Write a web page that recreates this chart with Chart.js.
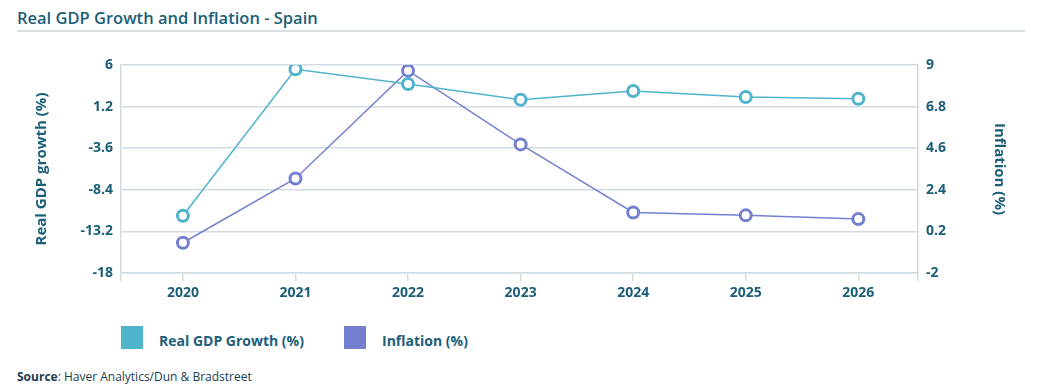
<!DOCTYPE html>
<html>
<head>
<meta charset="utf-8">
<script src="https://cdn.jsdelivr.net/npm/chart.js"></script>
<style>
  body { margin: 0; width: 1041px; height: 392px; background: #fff; font-family: "Open Sans", sans-serif; position: relative; overflow: hidden; }
  #title { position: absolute; left: 17px; top: 6px; font-size: 16.5px; font-weight: 600; color: #1b5e78; }
  #rule { position: absolute; left: 17px; top: 30px; width: 1008px; height: 2px; background: #d7dfe4; }
  #wrap { position: absolute; left: 0; top: 40px; width: 1041px; height: 273px; }
  .leg { position: absolute; top: 326px; display: flex; align-items: flex-start; }
  .sw { width: 22px; height: 23px; margin-right: 16px; }
  .leg span { font-size: 14px; font-weight: 700; color: #1b5e78; padding-top: 5px; }
  #src { position: absolute; left: 17px; top: 368px; font-size: 12px; color: #1c3d4f; }
</style>
</head>
<body>
<div id="title">Real GDP Growth and Inflation - Spain</div>
<div id="rule"></div>
<div id="wrap"><canvas id="chart"></canvas></div>
<div class="leg" style="left:121px"><div class="sw" style="background:#4fb3cb"></div><span>Real GDP Growth (%)</span></div>
<div class="leg" style="left:344px"><div class="sw" style="background:#7480cf"></div><span>Inflation (%)</span></div>
<div id="src"><b>Source</b>: Haver Analytics/Dun &amp; Bradstreet</div>
<script>
const years = [2020, 2021, 2022, 2023, 2024, 2025, 2026];
const gdpGrowth = [-11.4, 5.5, 3.8, 2.0, 3.0, 2.3, 2.1];
const inflation = [-0.4, 3.0, 8.7, 4.8, 1.2, 1.05, 0.85];
const gdpTicks = [-18, -13.2, -8.4, -3.6, 1.2, 6];
const inflationTicks = [-2, 0.2, 2.4, 4.6, 6.8, 9];

const teal = '#1b5e78';
const gridColor = '#d3dbe2';
const tickFont = { family: 'Open Sans', size: 14, weight: 'bold' };
const xMin = 2019.45, xMax = 2026.53;

const ctx = document.getElementById('chart').getContext('2d');
new Chart(ctx, {
  type: 'line',
  data: {
    datasets: [{
      label: 'Real GDP Growth (%)',
      data: years.map((y, i) => ({ x: y, y: gdpGrowth[i] })),
      yAxisID: 'y',
      borderColor: '#4fb3cb',
      backgroundColor: '#4fb3cb',
      borderWidth: 1.5,
      pointRadius: 5.5,
      pointBorderWidth: 3,
      pointBackgroundColor: '#fff',
      pointBorderColor: '#4fb3cb'
    }, {
      label: 'Inflation (%)',
      data: years.map((y, i) => ({ x: y, y: inflation[i] })),
      yAxisID: 'y1',
      borderColor: '#7480cf',
      backgroundColor: '#7480cf',
      borderWidth: 1.5,
      pointRadius: 5.5,
      pointBorderWidth: 3,
      pointBackgroundColor: '#fff',
      pointBorderColor: '#7480cf'
    }]
  },
  options: {
    responsive: true,
    maintainAspectRatio: false,
    animation: false,
    layout: { padding: { top: 25, left: 0, right: 0, bottom: 0 } },
    plugins: { legend: { display: false }, tooltip: { enabled: false } },
    scales: {
      x: {
        type: 'linear',
        min: xMin,
        max: xMax,
        afterBuildTicks: s => { s.ticks = [xMin, ...years, xMax].map(v => ({ value: v })); },
        ticks: {
          color: teal,
          font: tickFont,
          padding: 4,
          maxRotation: 0,
          autoSkip: false,
          callback: v => Number.isInteger(v) ? String(v) : ''
        },
        grid: { drawOnChartArea: false, color: gridColor, lineWidth: 1.5, tickLength: 8 },
        border: { color: gridColor, width: 1.5 },
        afterFit: s => { s.height = 40; }
      },
      y: {
        position: 'left',
        min: -18,
        max: 6,
        afterBuildTicks: s => { s.ticks = gdpTicks.map(v => ({ value: v })); },
        ticks: { color: teal, font: tickFont, padding: 8 },
        grid: { color: gridColor, lineWidth: 1.5, drawTicks: false },
        border: { color: gridColor, width: 1.5 },
        title: {
          display: true,
          text: 'Real GDP growth (%)',
          color: teal,
          font: { family: 'Open Sans', size: 15, weight: 'bold' },
          padding: { top: 33, bottom: 0 }
        },
        afterFit: s => { s.width = 121; }
      },
      y1: {
        position: 'right',
        min: -2,
        max: 9,
        afterBuildTicks: s => { s.ticks = inflationTicks.map(v => ({ value: v })); },
        ticks: { color: teal, font: tickFont, padding: 8 },
        grid: { drawOnChartArea: false, drawTicks: false },
        border: { color: gridColor, width: 1.5 },
        title: {
          display: true,
          text: 'Inflation (%)',
          color: teal,
          font: { family: 'Open Sans', size: 15, weight: 'bold' },
          padding: { top: 33, bottom: 0 }
        },
        afterFit: s => { s.width = 123; }
      }
    }
  }
});
</script>
</body>
</html>
